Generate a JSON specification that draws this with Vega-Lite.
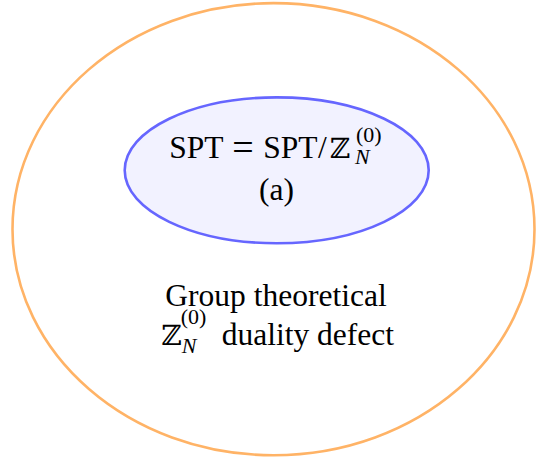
{
  "$schema": "https://vega.github.io/schema/vega-lite/v6.json",
  "width": 537,
  "height": 461,
  "autosize": "none",
  "padding": 0,
  "background": "white",
  "config": {"view": {"stroke": null}},
  "datasets": {
    "ellipses": [
      {"name": "outer", "cx": 273.5, "cy": 229.2},
      {"name": "inner", "cx": 276.7, "cy": 170.3}
    ],
    "main": [
      {"text": "SPT", "x": 169.3, "y": 158},
      {"text": "SPT", "x": 263.3, "y": 158},
      {"text": "/", "x": 318, "y": 158},
      {"text": "duality defect", "x": 221.7, "y": 345}
    ],
    "eq": [
      {"text": "=", "x": 243, "y": 160}
    ],
    "zz": [
      {"text": "ℤ", "x": 329.5, "y": 158},
      {"text": "ℤ", "x": 161, "y": 345}
    ],
    "centered": [
      {"text": "(a)", "x": 276.5, "y": 200},
      {"text": "Group theoretical", "x": 276, "y": 306}
    ],
    "sup": [
      {"text": "(0)", "x": 356, "y": 142},
      {"text": "(0)", "x": 180.7, "y": 324}
    ],
    "sub": [
      {"text": "N", "x": 355, "y": 164},
      {"text": "N", "x": 181.7, "y": 353}
    ]
  },
  "layer": [
    {
      "data": {"name": "ellipses"},
      "transform": [{"filter": "datum.name === 'outer'"}],
      "mark": {
        "type": "point",
        "shape": "M -1 0 A 1 0.866 0 1 0 1 0 A 1 0.866 0 1 0 -1 0 Z",
        "size": 272484,
        "filled": false,
        "stroke": "#FFB366",
        "strokeWidth": 2.6,
        "opacity": 1
      },
      "encoding": {
        "x": {"field": "cx", "type": "quantitative", "scale": {"domain": [0, 537], "nice": false, "zero": false}, "axis": null},
        "y": {"field": "cy", "type": "quantitative", "scale": {"domain": [0, 461], "nice": false, "zero": false, "reverse": true}, "axis": null}
      }
    },
    {
      "data": {"name": "ellipses"},
      "transform": [{"filter": "datum.name === 'inner'"}],
      "mark": {
        "type": "point",
        "shape": "M -1 0 A 1 0.48 0 1 0 1 0 A 1 0.48 0 1 0 -1 0 Z",
        "size": 92416,
        "filled": true,
        "fill": "#F2F2FF",
        "stroke": "#6666FF",
        "strokeWidth": 2.6,
        "opacity": 1,
        "fillOpacity": 1,
        "strokeOpacity": 1
      },
      "encoding": {
        "x": {"field": "cx", "type": "quantitative"},
        "y": {"field": "cy", "type": "quantitative"}
      }
    },
    {
      "data": {"name": "main"},
      "mark": {"type": "text", "font": "'Liberation Serif', 'DejaVu Serif', serif", "fontSize": 31.5, "align": "left", "baseline": "alphabetic", "color": "#000000"},
      "encoding": {
        "x": {"field": "x", "type": "quantitative"},
        "y": {"field": "y", "type": "quantitative"},
        "text": {"field": "text"}
      }
    },
    {
      "data": {"name": "eq"},
      "mark": {"type": "text", "font": "'Liberation Serif', 'DejaVu Serif', serif", "fontSize": 38, "align": "center", "baseline": "alphabetic", "color": "#000000"},
      "encoding": {
        "x": {"field": "x", "type": "quantitative"},
        "y": {"field": "y", "type": "quantitative"},
        "text": {"field": "text"}
      }
    },
    {
      "data": {"name": "zz"},
      "mark": {"type": "text", "font": "'DejaVu Serif', serif", "fontSize": 28, "align": "left", "baseline": "alphabetic", "color": "#000000"},
      "encoding": {
        "x": {"field": "x", "type": "quantitative"},
        "y": {"field": "y", "type": "quantitative"},
        "text": {"field": "text"}
      }
    },
    {
      "data": {"name": "centered"},
      "mark": {"type": "text", "font": "'Liberation Serif', 'DejaVu Serif', serif", "fontSize": 31.5, "align": "center", "baseline": "alphabetic", "color": "#000000"},
      "encoding": {
        "x": {"field": "x", "type": "quantitative"},
        "y": {"field": "y", "type": "quantitative"},
        "text": {"field": "text"}
      }
    },
    {
      "data": {"name": "sup"},
      "mark": {"type": "text", "font": "'Liberation Serif', 'DejaVu Serif', serif", "fontSize": 22, "align": "left", "baseline": "alphabetic", "color": "#000000"},
      "encoding": {
        "x": {"field": "x", "type": "quantitative"},
        "y": {"field": "y", "type": "quantitative"},
        "text": {"field": "text"}
      }
    },
    {
      "data": {"name": "sub"},
      "mark": {"type": "text", "font": "'Liberation Serif', 'DejaVu Serif', serif", "fontSize": 22, "fontStyle": "italic", "align": "left", "baseline": "alphabetic", "color": "#000000"},
      "encoding": {
        "x": {"field": "x", "type": "quantitative"},
        "y": {"field": "y", "type": "quantitative"},
        "text": {"field": "text"}
      }
    }
  ]
}
